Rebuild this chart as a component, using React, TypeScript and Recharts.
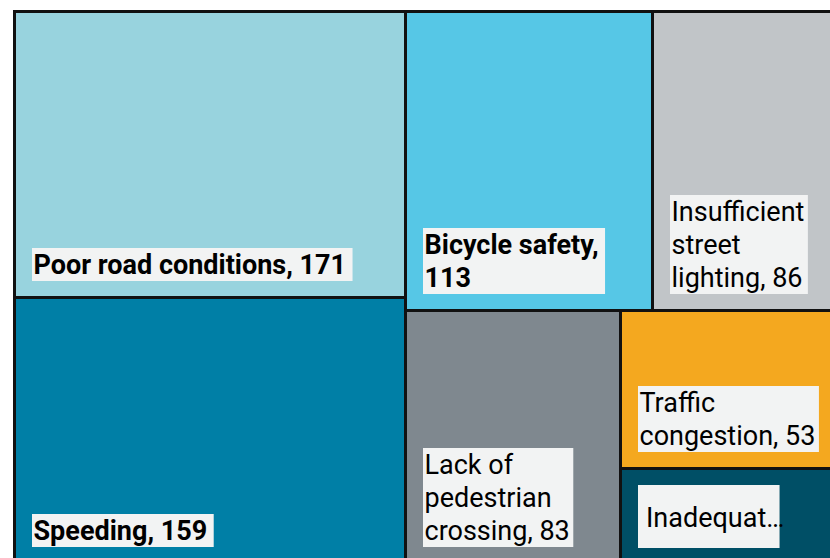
import { Treemap } from 'recharts';

const CATEGORIES = [
  'Poor road conditions',
  'Speeding',
  'Bicycle safety',
  'Insufficient street lighting',
  'Lack of pedestrian crossing',
  'Traffic congestion',
  'Inadequate signage',
];
const VALUES = [171, 159, 113, 86, 83, 53, 32];
const COLORS = ['#98d3de', '#007fa6', '#56c7e6', '#c1c5c8', '#7f888f', '#f4a81f', '#004f66'];

const data = CATEGORIES.map((name, i) => ({ name, size: VALUES[i], color: COLORS[i] }));

const FONT_SIZE = 27;
const LINE_H = 33;
const PAD = 16;

let ctx: CanvasRenderingContext2D | null = null;
const measure = (s: string, bold: boolean) => {
  if (!ctx) ctx = document.createElement('canvas').getContext('2d');
  ctx!.font = `${bold ? 700 : 400} ${FONT_SIZE}px Roboto`;
  return ctx!.measureText(s).width;
};

const wrap = (text: string, maxW: number, bold: boolean) => {
  const lines: string[] = [];
  let cur = '';
  for (const w of text.split(' ')) {
    const t = cur ? `${cur} ${w}` : w;
    if (cur && measure(t, bold) > maxW) {
      lines.push(cur);
      cur = w;
    } else cur = t;
  }
  if (cur) lines.push(cur);
  return lines;
};

const TreemapCell = (props: any) => {
  const { x, y, width, height, depth, name, value, color } = props;
  if (depth !== 1) return null;

  const bold = value >= 100;
  const lines = wrap(`${name}, ${value}`, width - 34, bold);
  const room = height - 2 * PAD;
  const bx = x + 18;
  const textStyle = {
    fontFamily: 'Roboto',
    fontSize: FONT_SIZE,
    fontWeight: bold ? 700 : 400,
    fill: '#000',
  };

  let label;
  if (lines.length * LINE_H > room) {
    // no room: show the first word cut short, centred in the box
    const first = lines[0].split(' ')[0];
    const bw = measure(first, bold) + 7;
    let cut = first;
    while (cut.length > 1 && measure(`${cut}…`, bold) > bw) cut = cut.slice(0, -1);
    const by = y + PAD + 1;
    label = (
      <g>
        <rect x={bx} y={by} width={bw} height={room} fill="#f2f3f3" />
        <text x={bx + 8} y={by + room / 2 + 10} style={textStyle}>{`${cut}…`}</text>
      </g>
    );
  } else {
    const bw = Math.max(...lines.map(l => measure(l, bold))) + (bold ? 8 : 5);
    const bh = lines.length * LINE_H;
    const by = y + height - PAD - bh;
    label = (
      <g>
        <rect x={bx} y={by} width={bw} height={bh} fill="#f2f3f3" />
        <text style={textStyle}>
          {lines.map((l, i) => (
            <tspan key={i} x={bx + 1.5} y={by + 26 + i * LINE_H}>{l}</tspan>
          ))}
        </text>
      </g>
    );
  }

  return (
    <g>
      <rect
        x={x + 0.5}
        y={y + 0.5}
        width={width}
        height={height}
        fill={color}
        stroke="#111"
        strokeWidth={3}
      />
      {label}
    </g>
  );
};

const App = () => {
  return (
    <div style={{ width: 830, height: 558, overflow: 'hidden', position: 'relative' }}>
      <style>{'body { margin: 0; } svg { overflow: visible; }'}</style>
      <div style={{ position: 'absolute', left: 14, top: 11 }}>
        <Treemap
          width={826}
          height={552}
          data={data}
          dataKey="size"
          nameKey="name"
          aspectRatio={1.2}
          isAnimationActive={false}
          content={TreemapCell}
        />
      </div>
    </div>
  );
};

export default App;
